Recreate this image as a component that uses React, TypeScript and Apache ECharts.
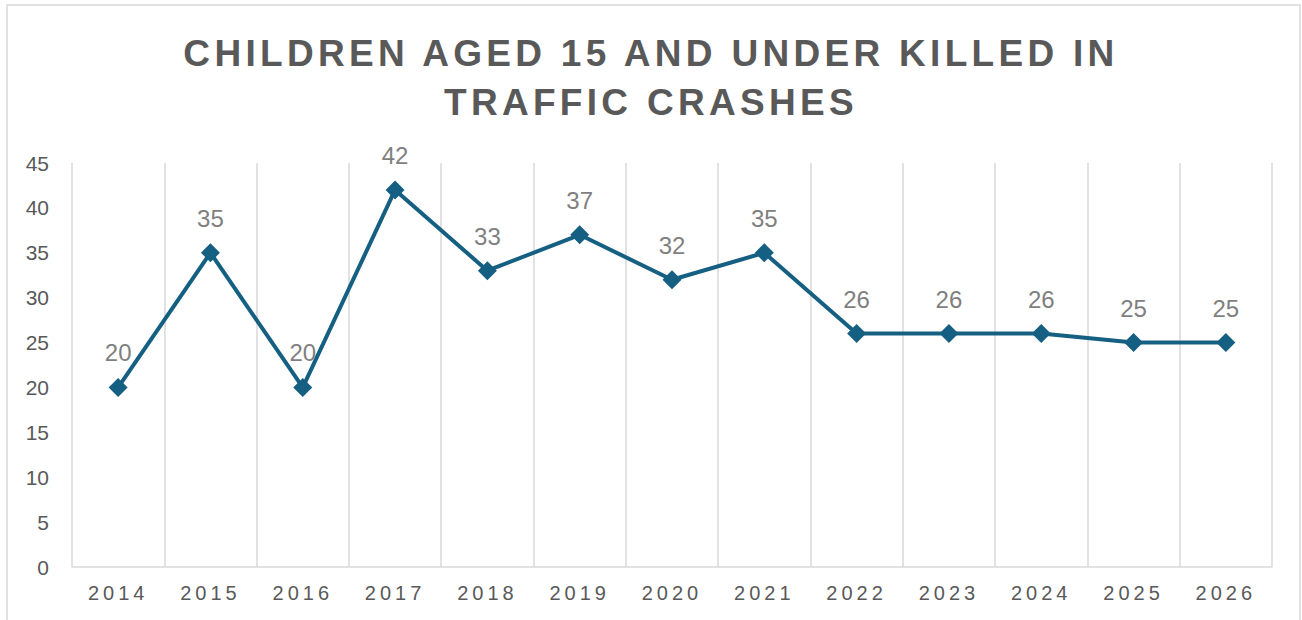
import React, { useEffect, useRef } from "react";
import * as echarts from "echarts";

const titleLines = ["CHILDREN AGED 15 AND UNDER KILLED IN", "TRAFFIC CRASHES"];
const years = ["2014", "2015", "2016", "2017", "2018", "2019", "2020", "2021", "2022", "2023", "2024", "2025", "2026"];
const killed = [20, 35, 20, 42, 33, 37, 32, 35, 26, 26, 26, 25, 25];
const yTicks = { min: 0, max: 45, interval: 5 };

const FONT = "'Liberation Sans', Arial, sans-serif";

export default function App() {
  const ref = useRef<HTMLDivElement>(null);

  useEffect(() => {
    if (!ref.current) return;
    const chart = echarts.init(ref.current, null, { renderer: "svg" });
    const option: any = {
      animation: false,
      backgroundColor: "#ffffff",
      title: {
        text: titleLines.join("\n"),
        left: "center",
        top: 24,
        textStyle: {
          fontFamily: FONT,
          fontSize: 37,
          fontWeight: "bold",
          color: "#595959",
          lineHeight: 49,
        },
      },
      graphic: [
        {
          type: "rect",
          shape: { x: 7, y: 5, width: 1293, height: 640 },
          style: { fill: "none", stroke: "#d9d9d9", lineWidth: 1.5 },
          silent: true,
          z: -1,
        },
      ],
      grid: { left: 72, right: 30, top: 163, bottom: 53 },
      xAxis: {
        type: "category",
        data: years,
        boundaryGap: true,
        axisLine: { show: true, lineStyle: { color: "#d9d9d9", width: 1.5 } },
        axisTick: { show: false },
        axisLabel: { color: "#595959", fontSize: 20, fontFamily: FONT, margin: 16 },
        splitLine: { show: true, lineStyle: { color: "#d9d9d9", width: 1.5 } },
      },
      yAxis: {
        type: "value",
        min: yTicks.min,
        max: yTicks.max,
        interval: yTicks.interval,
        axisLine: { show: false },
        axisTick: { show: false },
        splitLine: { show: false },
        axisLabel: { color: "#595959", fontSize: 21, fontFamily: FONT, margin: 23 },
      },
      series: [
        {
          type: "line",
          data: killed,
          symbol: "diamond",
          symbolSize: 19,
          lineStyle: { color: "#156082", width: 4 },
          itemStyle: { color: "#156082" },
          label: {
            show: true,
            position: "top",
            distance: 13,
            color: "#7f7f7f",
            fontSize: 24,
            fontFamily: FONT,
          },
        },
      ],
    };
    chart.setOption(option);

    const applySpacing = () => {
      const el = ref.current;
      if (!el) return;
      el.querySelectorAll("text").forEach((t) => {
        const s = (t.textContent || "").trim();
        if (titleLines.includes(s)) {
          (t as SVGTextElement).style.letterSpacing = "4.3px";
        } else if (years.includes(s)) {
          (t as SVGTextElement).style.letterSpacing = "4px";
        }
      });
    };
    applySpacing();
    chart.on("finished", applySpacing);

    return () => {
      chart.dispose();
    };
  }, []);

  return (
    <div
      ref={ref}
      style={{ position: "absolute", left: 0, top: 0, width: 1302, height: 620 }}
    />
  );
}
